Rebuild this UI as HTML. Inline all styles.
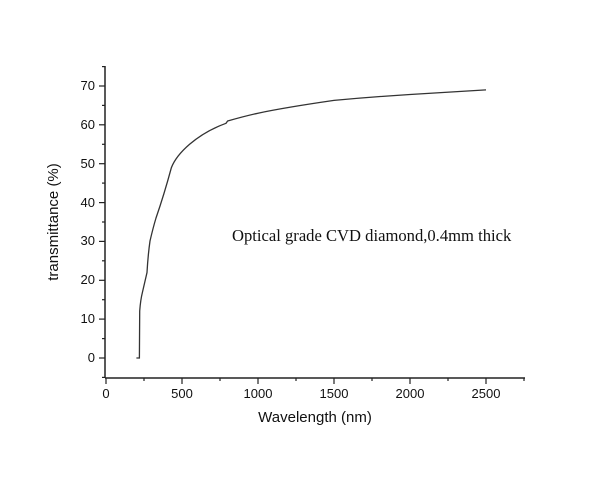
<!DOCTYPE html><html><head><style>body{margin:0;background:#fff}svg{display:block}</style></head><body>
<svg width="613" height="481" xmlns="http://www.w3.org/2000/svg" font-family="Liberation Sans, sans-serif">
<g stroke="#222" stroke-width="1.5" fill="none">
<line x1="105" y1="66" x2="105" y2="378"/>
<line x1="105" y1="378" x2="525" y2="378"/>
</g>
<g stroke="#222" stroke-width="1.2">
<line x1="99" y1="358" x2="105" y2="358"/><line x1="99" y1="319.1" x2="105" y2="319.1"/><line x1="99" y1="280.3" x2="105" y2="280.3"/><line x1="99" y1="241.4" x2="105" y2="241.4"/><line x1="99" y1="202.6" x2="105" y2="202.6"/><line x1="99" y1="163.7" x2="105" y2="163.7"/><line x1="99" y1="124.8" x2="105" y2="124.8"/><line x1="99" y1="86" x2="105" y2="86"/>
<line x1="102" y1="377.4" x2="105" y2="377.4"/><line x1="102" y1="338.6" x2="105" y2="338.6"/><line x1="102" y1="299.7" x2="105" y2="299.7"/><line x1="102" y1="260.8" x2="105" y2="260.8"/><line x1="102" y1="222" x2="105" y2="222"/><line x1="102" y1="183.1" x2="105" y2="183.1"/><line x1="102" y1="144.3" x2="105" y2="144.3"/><line x1="102" y1="105.4" x2="105" y2="105.4"/><line x1="102" y1="66.6" x2="105" y2="66.6"/>
<line x1="106" y1="378" x2="106" y2="384"/><line x1="182" y1="378" x2="182" y2="384"/><line x1="258" y1="378" x2="258" y2="384"/><line x1="334" y1="378" x2="334" y2="384"/><line x1="410" y1="378" x2="410" y2="384"/><line x1="486" y1="378" x2="486" y2="384"/>
<line x1="144" y1="378" x2="144" y2="381"/><line x1="220" y1="378" x2="220" y2="381"/><line x1="296" y1="378" x2="296" y2="381"/><line x1="372" y1="378" x2="372" y2="381"/><line x1="448" y1="378" x2="448" y2="381"/><line x1="524" y1="378" x2="524" y2="381"/>
</g>
<g font-size="13" fill="#111" text-anchor="end">
<text x="95" y="362">0</text><text x="95" y="323">10</text><text x="95" y="284">20</text><text x="95" y="245">30</text><text x="95" y="207">40</text><text x="95" y="168">50</text><text x="95" y="129">60</text><text x="95" y="90">70</text>
</g>
<g font-size="13" fill="#111" text-anchor="middle">
<text x="106" y="398">0</text><text x="182" y="398">500</text><text x="258" y="398">1000</text><text x="334" y="398">1500</text><text x="410" y="398">2000</text><text x="486" y="398">2500</text>
<text x="315" y="422" font-size="15">Wavelength (nm)</text>
<text transform="translate(58,222) rotate(-90)" font-size="15">transmittance (%)</text>
</g>
<text x="232" y="241" font-family="Liberation Serif, serif" font-size="16.6" fill="#111">Optical grade CVD diamond,0.4mm thick</text>
<path fill="none" stroke="#333" stroke-width="1.3" d="M136.4,358 L139.4,358 L139.7,311 Q140.5,300 142.5,292 L147,272.5 Q148,255 150,241 Q153,228 156,218 Q164,195 171.4,167.6 Q176,156 189.6,144.3 Q205,131 226,123.3 L227.6,121 Q245,116 258,113.2 Q285,107.5 334,100.4 Q370,97 410,94.5 L486,89.9"/>
</svg></body></html>
